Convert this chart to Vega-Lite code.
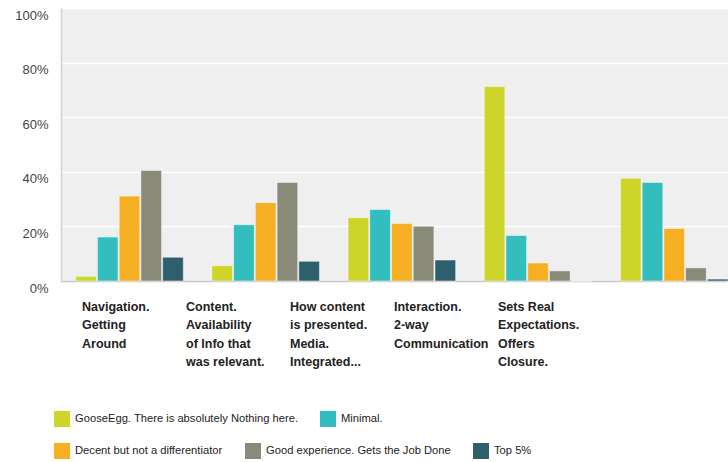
{
  "$schema": "https://vega.github.io/schema/vega-lite/v6.json",
  "autosize": {"type": "none"},
  "padding": {"left": 61, "top": 8, "right": 0, "bottom": 181},
  "width": 667,
  "height": 273,
  "config": {
    "view": {"fill": "#efefef", "stroke": null},
    "font": "Liberation Sans",
    "legend": {"padding": 0}
  },
  "data": {
    "values": [
      {"cat": "Navigation.|Getting|Around", "series": "GooseEgg. There is absolutely Nothing here.", "value": 0.017},
      {"cat": "Navigation.|Getting|Around", "series": "Minimal.", "value": 0.161},
      {"cat": "Navigation.|Getting|Around", "series": "Decent but not a differentiator", "value": 0.311},
      {"cat": "Navigation.|Getting|Around", "series": "Good experience. Gets the Job Done", "value": 0.405},
      {"cat": "Navigation.|Getting|Around", "series": "Top 5%", "value": 0.087},
      {"cat": "Content.|Availability|of Info that|was relevant.", "series": "GooseEgg. There is absolutely Nothing here.", "value": 0.056},
      {"cat": "Content.|Availability|of Info that|was relevant.", "series": "Minimal.", "value": 0.206},
      {"cat": "Content.|Availability|of Info that|was relevant.", "series": "Decent but not a differentiator", "value": 0.287},
      {"cat": "Content.|Availability|of Info that|was relevant.", "series": "Good experience. Gets the Job Done", "value": 0.361},
      {"cat": "Content.|Availability|of Info that|was relevant.", "series": "Top 5%", "value": 0.072},
      {"cat": "How content|is presented.|Media.|Integrated...", "series": "GooseEgg. There is absolutely Nothing here.", "value": 0.232},
      {"cat": "How content|is presented.|Media.|Integrated...", "series": "Minimal.", "value": 0.262},
      {"cat": "How content|is presented.|Media.|Integrated...", "series": "Decent but not a differentiator", "value": 0.211},
      {"cat": "How content|is presented.|Media.|Integrated...", "series": "Good experience. Gets the Job Done", "value": 0.201},
      {"cat": "How content|is presented.|Media.|Integrated...", "series": "Top 5%", "value": 0.077},
      {"cat": "Interaction.|2-way|Communication", "series": "GooseEgg. There is absolutely Nothing here.", "value": 0.712},
      {"cat": "Interaction.|2-way|Communication", "series": "Minimal.", "value": 0.167},
      {"cat": "Interaction.|2-way|Communication", "series": "Decent but not a differentiator", "value": 0.066},
      {"cat": "Interaction.|2-way|Communication", "series": "Good experience. Gets the Job Done", "value": 0.037},
      {"cat": "Interaction.|2-way|Communication", "series": "Top 5%", "value": 0},
      {"cat": "Sets Real|Expectations.|Offers|Closure.", "series": "GooseEgg. There is absolutely Nothing here.", "value": 0.376},
      {"cat": "Sets Real|Expectations.|Offers|Closure.", "series": "Minimal.", "value": 0.361},
      {"cat": "Sets Real|Expectations.|Offers|Closure.", "series": "Decent but not a differentiator", "value": 0.192},
      {"cat": "Sets Real|Expectations.|Offers|Closure.", "series": "Good experience. Gets the Job Done", "value": 0.048},
      {"cat": "Sets Real|Expectations.|Offers|Closure.", "series": "Top 5%", "value": 0.007}
    ]
  },
  "layer": [
    {
      "transform": [{"filter": {"field": "series", "oneOf": ["GooseEgg. There is absolutely Nothing here.", "Minimal."]}}],
      "mark": {"type": "bar", "stroke": "#ffffff", "strokeWidth": 0.8, "strokeOpacity": 0.6},
      "encoding": {
        "x": {
          "field": "cat", "type": "nominal", "sort": null,
          "scale": {"paddingInner": 0.21, "paddingOuter": 0.054, "align": 1},
          "axis": {"orient": "bottom", "title": null, "labels": false, "ticks": false, "domain": true, "domainColor": "#c8c8c8", "domainWidth": 1.5, "grid": false}
        },
        "xOffset": {
          "field": "series", "type": "nominal",
          "scale": {"domain": ["GooseEgg. There is absolutely Nothing here.", "Minimal.", "Decent but not a differentiator", "Good experience. Gets the Job Done", "Top 5%"], "paddingInner": 0.05}
        },
        "y": {
          "field": "value", "type": "quantitative",
          "scale": {"domain": [0, 1]},
          "axis": {
            "title": null,
            "values": [0, 0.1, 0.2, 0.3, 0.4, 0.5, 0.6, 0.7, 0.8, 0.9, 1],
            "labelExpr": "round(datum.value*10) % 2 == 0 ? format(datum.value, '.0%') : ''",
            "grid": true, "gridColor": "#ffffff", "gridWidth": 1.5,
            "ticks": false, "domain": true, "domainColor": "#d0d0d0", "domainWidth": 1.5,
            "labelFont": "Liberation Sans", "labelFontSize": 13, "labelColor": "#444444",
            "labelPadding": 13, "labelBaseline": "top", "labelOffset": 1
          }
        },
        "color": {
          "field": "series", "type": "nominal",
          "scale": {
            "domain": ["GooseEgg. There is absolutely Nothing here.", "Minimal."],
            "range": ["#cdd42a", "#33bdbf"]
          },
          "legend": {
            "title": null, "orient": "none", "legendX": -7, "legendY": 403, "direction": "horizontal",
            "symbolType": "square", "symbolSize": 256, "symbolStrokeWidth": 0, "symbolOpacity": 1,
            "labelFont": "Liberation Sans", "labelFontSize": 11.2, "labelColor": "#222222",
            "labelOffset": 5, "columnPadding": 21, "labelLimit": 400
          }
        }
      }
    },
    {
      "transform": [{"filter": {"field": "series", "oneOf": ["Decent but not a differentiator", "Good experience. Gets the Job Done", "Top 5%"]}}],
      "mark": {"type": "bar", "stroke": "#ffffff", "strokeWidth": 0.8, "strokeOpacity": 0.6},
      "encoding": {
        "x": {
          "field": "cat", "type": "nominal", "sort": null,
          "scale": {"paddingInner": 0.21, "paddingOuter": 0.054, "align": 1},
          "axis": null
        },
        "xOffset": {
          "field": "series", "type": "nominal",
          "scale": {"domain": ["GooseEgg. There is absolutely Nothing here.", "Minimal.", "Decent but not a differentiator", "Good experience. Gets the Job Done", "Top 5%"], "paddingInner": 0.05}
        },
        "y": {"field": "value", "type": "quantitative", "scale": {"domain": [0, 1]}},
        "color": {
          "field": "series", "type": "nominal",
          "scale": {
            "domain": ["Decent but not a differentiator", "Good experience. Gets the Job Done", "Top 5%"],
            "range": ["#f6ae22", "#8a8a79", "#2e5f6d"]
          },
          "legend": {
            "title": null, "orient": "none", "legendX": -7, "legendY": 435, "direction": "horizontal",
            "symbolType": "square", "symbolSize": 256, "symbolStrokeWidth": 0, "symbolOpacity": 1,
            "labelFont": "Liberation Sans", "labelFontSize": 11.2, "labelColor": "#222222",
            "labelOffset": 5, "columnPadding": 22, "labelLimit": 400
          }
        }
      }
    },
    {
      "mark": {"type": "point", "opacity": 0},
      "encoding": {
        "x": {
          "field": "cat", "type": "nominal", "sort": null,
          "scale": {"type": "band", "paddingInner": 0, "paddingOuter": 0.707, "align": 0.143},
          "axis": {
            "orient": "bottom", "title": null, "domain": false, "ticks": false, "grid": false,
            "labelOffset": -52,
            "labelExpr": "split(datum.label, '|')",
            "labelAngle": 0, "labelAlign": "left", "labelBaseline": "top",
            "labelFont": "Liberation Sans", "labelFontWeight": "bold", "labelFontSize": 12.5,
            "labelLineHeight": 18.5, "labelColor": "#222222", "labelPadding": 19, "labelLimit": 200
          }
        }
      }
    }
  ],
  "resolve": {"scale": {"x": "independent", "color": "independent"}, "axis": {"x": "independent"}, "legend": {"color": "independent"}}
}
